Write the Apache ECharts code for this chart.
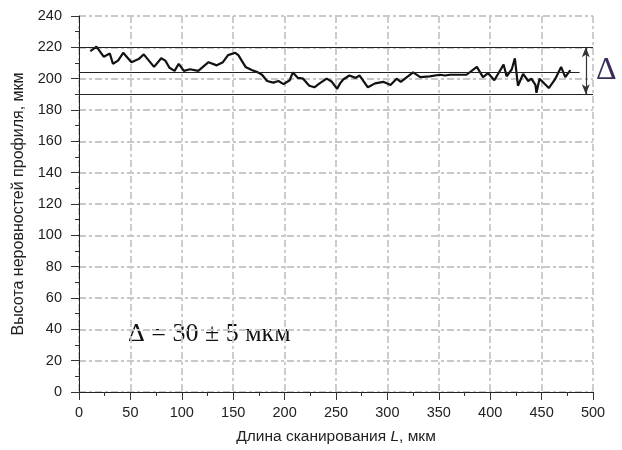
<!DOCTYPE HTML>
<html>
<head>
  <meta http-equiv="Content-Type" content="text/html,charset=utf-8"/>
  <title>Профиль</title>
  <script type="text/javascript" src="https://cdn.jsdelivr.net/npm/echarts@6/dist/echarts.min.js"></script>
  <style>
    html, body { margin: 0; padding: 0; background: #fff; }
    #container { width: 622px; height: 450px; }
  </style>
</head>
<body>
  <div id="container"></div>
  <script type="text/javascript">
    // длина сканирования L, мкм
    var lenArr = [11, 17, 24, 30, 33, 38, 43, 51, 58, 63, 73, 80, 84, 88, 93, 97, 102, 108, 116, 126,
                  134, 140, 145, 152, 155, 162, 168, 174, 178, 183, 189, 194, 199, 205, 208, 213, 218, 224, 229, 234,
                  241, 246, 251, 254, 257, 263, 269, 273, 281, 288, 296, 303, 309, 313, 325, 332, 341, 351, 356, 361,
                  377, 387, 393, 398, 404, 413, 416, 421, 424, 427, 432, 437, 440, 444, 445, 448, 457, 463, 469, 473, 478];
    // высота неровностей, мкм
    var heightArr = [217.5, 220.5, 214, 216, 209.5, 211.5, 216.5, 210.5, 212.5, 215.5, 207.5, 213, 211.5, 207, 205, 209.5, 205, 206, 205, 210.5,
                     208.5, 210.5, 215, 216.5, 215, 207.5, 205.5, 204, 202.5, 198.5, 197.5, 198.5, 196.5, 199, 204, 200.5, 200, 195.5, 194.5, 197,
                     200, 198, 193.5, 197, 199.5, 202, 200.5, 202, 194.5, 197, 198, 196, 200, 198, 204, 201, 201.5, 202.5, 202, 202.5,
                     202.5, 207.5, 201, 203.5, 199, 209, 201.5, 206, 213, 195.5, 203, 198.5, 200, 196, 191, 200, 194, 199.5, 207.5, 201, 205.5];
    // горизонтальные уровни и размах
    var levels = [220, 204, 190];
    var meanEnd = 487;
    var deltaAt = 493;
    var xTicks = [0, 500, 50];
    var yTicks = [0, 240, 20];

    var pts = [];
    for (var i = 0; i < lenArr.length; i++) {
      pts.push([lenArr[i], heightArr[i]]);
    }

    var gridColor = '#c8c8c8';
    var dashDot = [7, 3, 3, 3];
    var thin = { color: '#222', width: 1, type: 'solid' };

    var chart = echarts.init(document.getElementById('container'), null, { renderer: 'canvas' });
    var option = {
      backgroundColor: '#fff',
      animation: false,
      grid: { left: 79, right: 29, top: 16, bottom: 56 },
      textStyle: { fontFamily: 'Liberation Sans, Arial, sans-serif' },
      xAxis: {
        type: 'value',
        min: xTicks[0], max: xTicks[1], interval: xTicks[2],
        name: 'Длина сканирования {i|L}, мкм',
        nameLocation: 'middle',
        nameGap: 37,
        nameTextStyle: {
          fontSize: 15.5, color: '#222',
          rich: { i: { fontStyle: 'italic', fontSize: 15.5, color: '#222' } }
        },
        axisLine: { lineStyle: { color: '#222', width: 1 } },
        axisTick: { inside: false, length: 8, lineStyle: { color: '#333' } },
        minorTick: { show: true, splitNumber: 2, length: 4, lineStyle: { color: '#333' } },
        axisLabel: { fontSize: 14.5, color: '#222', margin: 13 },
        splitLine: { show: true, lineStyle: { color: gridColor, width: 1.8, type: dashDot } }
      },
      yAxis: {
        type: 'value',
        min: yTicks[0], max: yTicks[1], interval: yTicks[2],
        offset: 5,
        name: 'Высота неровностей профиля, мкм',
        nameLocation: 'middle',
        nameGap: 45,
        nameTextStyle: { fontSize: 16, color: '#222' },
        axisLine: { show: true, lineStyle: { color: '#222', width: 1 } },
        axisTick: { show: true, inside: false, length: 8, lineStyle: { color: '#333' } },
        minorTick: { show: true, splitNumber: 2, length: 4, lineStyle: { color: '#333' } },
        axisLabel: { fontSize: 14.5, color: '#222', margin: 12 },
        splitLine: { show: true, lineStyle: { color: gridColor, width: 1.8, type: dashDot } }
      },
      series: [{
        type: 'line',
        data: pts,
        showSymbol: false,
        symbol: 'none',
        lineStyle: { color: '#111', width: 2.2 },
        markLine: {
          silent: true,
          animation: false,
          symbol: 'none',
          label: { show: false },
          lineStyle: thin,
          data: [
            { yAxis: levels[0] },
            [{ coord: [0, levels[1]] }, { coord: [meanEnd, levels[1]] }],
            { yAxis: levels[2] },
            [{ coord: [deltaAt, levels[0]], symbol: 'arrow', symbolSize: [6, 10], lineStyle: { color: '#333', width: 1.2, type: 'solid' } },
             { coord: [deltaAt, levels[2]], symbol: 'arrow', symbolSize: [6, 10] }]
          ]
        }
      }],
      graphic: [
        {
          type: 'text', left: 128, top: 321,
          style: { text: 'Δ = 30 ± 5 мкм', font: '26px "Liberation Serif", "Times New Roman", serif', fill: '#111' }
        },
        {
          type: 'text', left: 596, top: 55,
          style: { text: 'Δ', font: '32px "Liberation Serif", "Times New Roman", serif', fill: '#3a2d5c' }
        }
      ]
    };
    chart.setOption(option);
  </script>
</body>
</html>
